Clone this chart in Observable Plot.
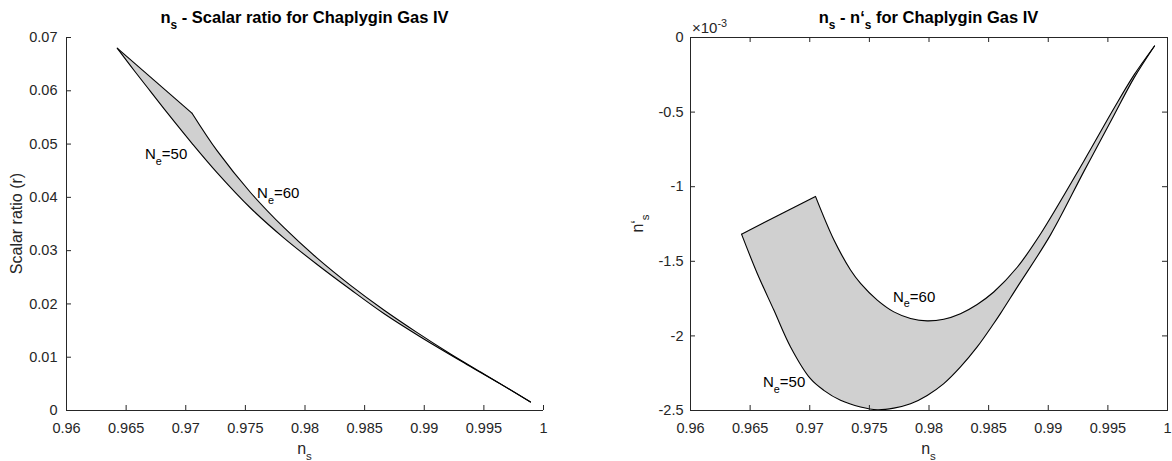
<!DOCTYPE html>
<html><head><meta charset="utf-8">
<script src="https://cdn.jsdelivr.net/npm/d3@7"></script>
<script src="https://cdn.jsdelivr.net/npm/@observablehq/plot@0.6"></script>
<style>
body{margin:0;background:#fff;}
#wrap{display:flex;width:1172px;height:461px;overflow:hidden;}
svg text{white-space:pre;}
</style></head><body><div id="wrap"></div>
<script>
// ---- shared ticks ----
const xTicks = [0.96, 0.965, 0.97, 0.975, 0.98, 0.985, 0.99, 0.995, 1];
const rTicks = [0, 0.01, 0.02, 0.03, 0.04, 0.05, 0.06, 0.07];
const dTicks = [-2.5, -2, -1.5, -1, -0.5, 0];

// ---- left panel: n_s vs r ----
const ns50L = [0.96425, 0.96564, 0.96704, 0.96844, 0.97054, 0.97264, 0.97543, 0.97822, 0.98102, 0.98382, 0.98661, 0.98969, 0.99360, 0.99639, 0.99891];
const r50L  = [0.0680, 0.0639, 0.0599, 0.0559, 0.0501, 0.0446, 0.0380, 0.0324, 0.0274, 0.0227, 0.0182, 0.0138, 0.0086, 0.0050, 0.0016];
const ns60L = [0.97054, 0.97264, 0.97543, 0.97822, 0.98102, 0.98382, 0.98661, 0.98941, 0.99220, 0.99500, 0.99891];
const r60L  = [0.05575, 0.04871, 0.04091, 0.03435, 0.02859, 0.02348, 0.01886, 0.01461, 0.01061, 0.00686, 0.00161];
const labTextL = ["=50", "=60"];
const labNsL = [0.96662, 0.97602];
const labYL = [0.0471, 0.03975];

// ---- right panel: n_s vs n's (x 1e-3) ----
const ns50R = [0.96428, 0.96559, 0.96699, 0.96839, 0.97006, 0.97118, 0.97258, 0.97426, 0.97566, 0.97705, 0.97845, 0.97985, 0.98124, 0.98264, 0.98404, 0.98543, 0.98600, 0.98740, 0.99019, 0.99298, 0.99550, 0.99717, 0.99891];
const d50R  = [-1.318, -1.580, -1.827, -2.074, -2.287, -2.365, -2.432, -2.477, -2.495, -2.484, -2.455, -2.399, -2.320, -2.208, -2.074, -1.917, -1.849, -1.673, -1.323, -0.899, -0.523, -0.274, -0.057];
const ns60R = [0.97048, 0.97202, 0.97342, 0.97426, 0.97566, 0.97705, 0.97845, 0.97985, 0.98124, 0.98264, 0.98404, 0.98543, 0.98740, 0.98935, 0.99298, 0.99550, 0.99717, 0.99891];
const d60R  = [-1.065, -1.356, -1.558, -1.648, -1.760, -1.839, -1.883, -1.899, -1.888, -1.851, -1.789, -1.706, -1.540, -1.317, -0.829, -0.476, -0.254, -0.057];
const labTextR = ["=50", "=60"];
const labNsR = [0.96612, 0.97702];
const labYR = [-2.345, -1.773];

const FONT = "'Liberation Sans', Arial, Helvetica, sans-serif";
const AX = "#262626";
const W = 586, H = 461, MT = 37, MB = 51;

function richText(sel, x, y, parts, o) {
  const t = sel.append("text")
    .attr("x", x).attr("y", y)
    .attr("text-anchor", o.anchor || "middle")
    .attr("font-size", o.size)
    .attr("font-family", FONT)
    .attr("font-weight", o.weight || "normal")
    .attr("fill", o.fill || "#000");
  if (o.rotate) t.attr("transform", `rotate(${o.rotate},${x},${y})`);
  let shift = 0;
  for (const [s, kind] of parts) {
    const target = kind === "sub" ? o.size * 0.38 : kind === "sup" ? -o.size * 0.42 : 0;
    const sp = t.append("tspan").attr("dy", target - shift).text(s);
    if (kind) sp.attr("font-size", o.size * 0.72);
    shift = target;
  }
  return t;
}

function panel(cfg) {
  const c50 = cfg.ns50.map((x, i) => ({x, y: cfg.y50[i]}));
  const c60 = cfg.ns60.map((x, i) => ({x, y: cfg.y60[i]}));
  const poly = [...c50.slice().reverse(), ...c60];
  const fw = W - cfg.ml - cfg.mr, fh = H - MT - MB;
  const marks = [
    Plot.line(poly, {x: "x", y: "y", fill: "#d0d0d0", stroke: "#d0d0d0", strokeWidth: 0.5}),
    Plot.line(c50, {x: "x", y: "y", stroke: "#000", strokeWidth: 1.1, curve: "catmull-rom"}),
    Plot.line(c60, {x: "x", y: "y", stroke: "#000", strokeWidth: 1.1, curve: "catmull-rom"}),
    Plot.link([{a: c50[0], b: c60[0]}], {x1: d => d.a.x, y1: d => d.a.y, x2: d => d.b.x, y2: d => d.b.y, stroke: "#000", strokeWidth: 1.1}),
    Plot.tickX(xTicks, {x: d => d, insetTop: fh - 5, stroke: AX}),
    Plot.tickY(cfg.yTicks, {y: d => d, insetRight: fw - 5, stroke: AX}),
    Plot.axisX(xTicks, {tickSize: 0, tickPadding: 12, tickFormat: d => String(d), label: null, fill: AX, fontSize: 14.5}),
    Plot.axisY(cfg.yTicks, {tickSize: 0, tickPadding: cfg.ypad, tickFormat: d => String(d), label: null, fill: AX, fontSize: 14.5})
  ];
  if (cfg.box) {
    marks.push(Plot.frame({stroke: AX}));
    marks.push(Plot.tickX(xTicks, {x: d => d, insetBottom: fh - 5, stroke: AX}));
    marks.push(Plot.tickY(cfg.yTicks, {y: d => d, insetLeft: fw - 5, stroke: AX}));
  } else {
    marks.push(Plot.ruleX([xTicks[0]], {stroke: AX}));
    marks.push(Plot.ruleY([cfg.yTicks[0]], {stroke: AX}));
  }
  const p = Plot.plot({
    width: W, height: H,
    marginLeft: cfg.ml, marginRight: cfg.mr, marginTop: MT, marginBottom: MB,
    x: {domain: [0.96, 1], label: null},
    y: {domain: cfg.ydomain, label: null},
    style: {fontFamily: FONT, fontSize: "14.5px", background: "white", overflow: "visible", color: AX},
    marks
  });
  const sx = p.scale("x"), sy = p.scale("y");
  const svg = d3.select(p);
  const cx = (sx.apply(0.96) + sx.apply(1)) / 2;
  const cy = (sy.apply(cfg.ydomain[0]) + sy.apply(cfg.ydomain[1])) / 2;
  richText(svg, cx, 23, cfg.title, {size: 16.5, weight: "bold"});
  richText(svg, cx, 454, [["n"], ["s", "sub"]], {size: 16, fill: AX});
  richText(svg, cfg.ylabX, cy, cfg.ylabel, {size: 16, rotate: -90, fill: AX});
  cfg.labText.forEach((t, i) => {
    richText(svg, sx.apply(cfg.labNs[i]), sy.apply(cfg.labY[i]), [["N"], ["e", "sub"], [t]], {size: 15, anchor: "start"});
  });
  if (cfg.exp) richText(svg, sx.apply(0.96) + 2, 33, [["\u00d710"], ["-3", "sup"]], {size: 15, anchor: "start", fill: AX});
  return p;
}

const wrap = document.getElementById("wrap");
wrap.appendChild(panel({
  ns50: ns50L, y50: r50L, ns60: ns60L, y60: r60L,
  yTicks: rTicks, ydomain: [0, 0.07], ml: 66, mr: 43, ypad: 9, box: false,
  title: [["n"], ["s", "sub"], [" - Scalar ratio for Chaplygin Gas IV"]],
  ylabel: [["Scalar ratio (r)"]], ylabX: 22,
  labText: labTextL, labNs: labNsL, labY: labYL, exp: false
}));
wrap.appendChild(panel({
  ns50: ns50R, y50: d50R, ns60: ns60R, y60: d60R,
  yTicks: dTicks, ydomain: [-2.5, 0], ml: 104, mr: 5, ypad: 7, box: true,
  title: [["n"], ["s", "sub"], [" - n\u2018"], ["s", "sub"], [" for Chaplygin Gas IV"]],
  ylabel: [["n\u2018"], ["s", "sub"]], ylabX: 57,
  labText: labTextR, labNs: labNsR, labY: labYR, exp: true
}));
</script></body></html>
